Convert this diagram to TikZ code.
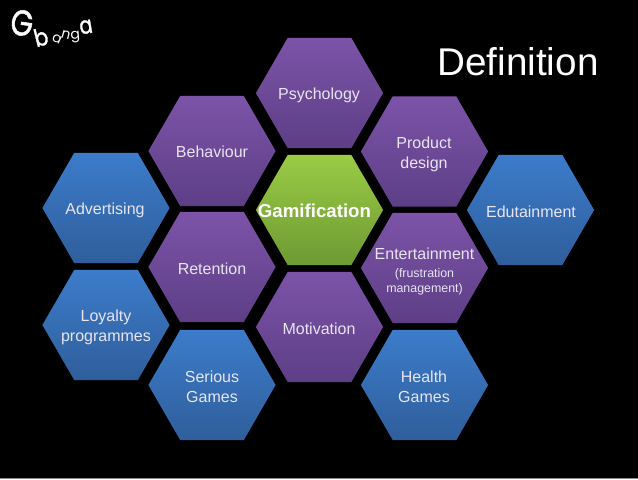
\documentclass[tikz,border=0pt]{standalone}
\usepackage{fontspec}
\setmainfont{Liberation Sans}
\newfontfamily\logofont{Poppins}
\newfontfamily\logobigfont[FakeBold=1.5]{Poppins}
\usetikzlibrary{shapes.geometric,positioning}
\definecolor{PurpleTop}{HTML}{7C53A8}
\definecolor{PurpleLow}{HTML}{5D3F86}
\definecolor{BlueTop}{HTML}{3C7CCB}
\definecolor{BlueLow}{HTML}{2F5E9B}
\definecolor{GreenTop}{HTML}{9ACB45}
\definecolor{GreenLow}{HTML}{6E9A33}
\definecolor{LabelInk}{HTML}{E8E4F0}
\definecolor{Rule}{HTML}{8C8C8C}
\tikzset{
  hex/.style={regular polygon,regular polygon sides=6,minimum size=95.4pt,inner sep=0pt,outer sep=0pt},
  purplehex/.style={hex,top color=PurpleTop,bottom color=PurpleLow},
  bluehex/.style={hex,top color=BlueTop,bottom color=BlueLow},
  greenhex/.style={hex,top color=GreenTop,bottom color=GreenLow},
  hexlabel/.style={text=LabelInk,align=center,font=\fontsize{12}{15}\selectfont,inner sep=0pt},
  smalllabel/.style={font=\fontsize{9.3}{11.5}\selectfont},
  title/.style={text=white,font=\fontsize{29}{34}\selectfont,inner sep=0pt},
  logoletter/.style={text=white,inner sep=0pt}
}
\begin{document}
\begin{tikzpicture}[x=.75pt,y=-.75pt]
  \fill[black,use as bounding box] (0,0) rectangle (638,479);
  \coordinate (ruleleft) at (0,478.5);
  \coordinate (ruleright) at (638,478.5);
  \draw[Rule,line width=.75pt] (ruleleft) -- (ruleright);
  % blue ring
  \node[bluehex] (advertising) at (106,208) {};
  \node[bluehex] (loyalty) at (106,325) {};
  \node[bluehex] (serious) at (212,385) {};
  \node[bluehex] (health) at (424.5,385) {};
  \node[bluehex] (edutainment) at (530.5,210) {};
  % purple ring
  \node[purplehex] (psychology) at (319.5,93) {};
  \node[purplehex] (behaviour) at (212,151) {};
  \node[purplehex] (retention) at (212,267) {};
  \node[purplehex] (motivation) at (319.5,327) {};
  \node[purplehex] (product) at (424.5,151.5) {};
  \node[purplehex] (entertainment) at (424.5,268) {};
  \node[greenhex] (gamification) at (319.5,210) {};
  % labels
  \node[hexlabel] (advertisingtext) at (105,210) {Advertising};
  \node[hexlabel] (loyaltytext) at (106,327) {Loyalty\\programmes};
  \node[hexlabel] (serioustext) at (212,387) {Serious\\Games};
  \node[hexlabel] (healthtext) at (424,387) {Health\\Games};
  \node[hexlabel] (edutainmenttext) at (531,212) {Edutainment};
  \node[hexlabel] (psychologytext) at (319,95) {Psychology};
  \node[hexlabel] (behaviourtext) at (212,152) {Behaviour};
  \node[hexlabel] (retentiontext) at (212,269) {Retention};
  \node[hexlabel] (motivationtext) at (319,329) {Motivation};
  \node[hexlabel] (producttext) at (424,154) {Product\\design};
  \node[hexlabel] (entertainmenttext) at (424.5,254) {Entertainment};
  \node[hexlabel,smalllabel,below=6pt of entertainmenttext] (frustrationtext) {(frustration\\management)};
  \node[hexlabel,font=\bfseries\fontsize{14}{16}\selectfont,text=white] (gamificationtext) at (314.5,211) {Gamification};
  \node[title] (definition) at (518,62) {Definition};
  % logo
  \node[logoletter,font=\logobigfont\fontsize{27}{27}\selectfont,rotate=-8,xscale=.8] (logog) at (22,23) {G};
  \node[logoletter,font=\logobigfont\fontsize{18}{18}\selectfont,rotate=14,xscale=.85] (logob) at (41,37) {b};
  \node[logoletter,font=\logofont\fontsize{10.5}{10.5}\selectfont,rotate=-25] (logoa) at (57,39.5) {a};
  \node[logoletter,font=\logofont\fontsize{10.5}{10.5}\selectfont,rotate=-15] (logon) at (66,35) {n};
  \node[logoletter,font=\logofont\fontsize{10.5}{10.5}\selectfont,rotate=5] (logoc) at (75.5,37) {g};
  \node[logoletter,font=\logobigfont\fontsize{18}{18}\selectfont,rotate=10,xscale=.8] (logoe) at (86,27) {a};
\end{tikzpicture}
\end{document}
